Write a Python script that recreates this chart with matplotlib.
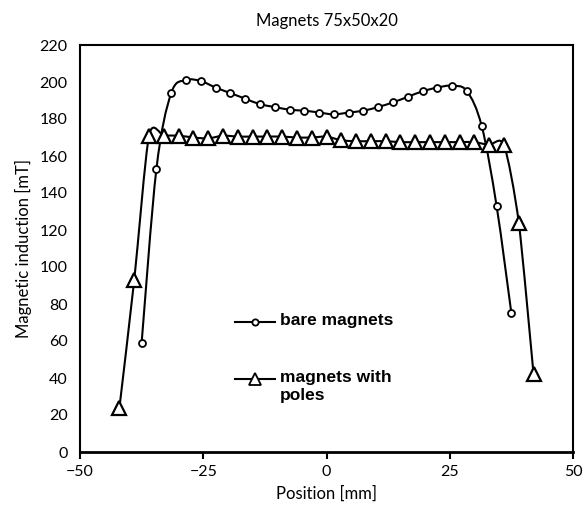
import matplotlib
matplotlib.use('Agg')
import matplotlib.pyplot as plt
from matplotlib.path import Path
from matplotlib.patches import PathPatch

# bare magnets (circles)
bare_x = [-37.5, -34.5, -31.5, -28.5, -25.5, -22.5, -19.5, -16.5, -13.5, -10.5, -7.5, -4.5, -1.5,
          1.5, 4.5, 7.5, 10.5, 13.5, 16.5, 19.5, 22.5, 25.5, 28.5, 31.5, 34.5, 37.5]
bare_y = [59, 153, 194, 201, 200.5, 197, 194, 191, 188, 186.5, 185, 184.5, 183.5,
          182.5, 183.5, 184.5, 186.5, 189, 192, 195, 197, 198, 195, 176, 133, 75]

# magnets with poles (triangles)
poles_x = [-42, -39, -36, -33, -30, -27, -24, -21, -18, -15, -12, -9, -6, -3, 0,
           3, 6, 9, 12, 15, 18, 21, 24, 27, 30, 33, 36, 39, 42]
poles_y = [24, 93, 171, 171, 171, 170, 169.5, 171, 170.5, 170.5, 170.5, 170.5, 170, 170, 170.5,
           168.5, 168, 168, 168, 167.5, 167.5, 167.5, 167.5, 167.5, 167.5, 166, 166, 124, 42]

labels = ['bare magnets', 'magnets with\npoles']


def smooth_path(x, y, k=6.0):
    # excel-like smoothed line, catmull-rom -> cubic bezier
    verts = [(x[0], y[0])]
    codes = [Path.MOVETO]
    n = len(x)
    for i in range(n - 1):
        a = i - 1 if i > 0 else i
        d = i + 2 if i + 2 < n else i + 1
        c1 = (x[i] + (x[i+1] - x[a]) / k, y[i] + (y[i+1] - y[a]) / k)
        c2 = (x[i+1] - (x[d] - x[i]) / k, y[i+1] - (y[d] - y[i]) / k)
        verts += [c1, c2, (x[i+1], y[i+1])]
        codes += [Path.CURVE4] * 3
    return Path(verts, codes)


plt.rcParams['font.family'] = ['Lato', 'DejaVu Sans']

fig = plt.figure(figsize=(5.83, 5.08), dpi=100)
ax = fig.add_axes([80/583, 56/508, 493/583, 407/508])

ax.add_patch(PathPatch(smooth_path(bare_x, bare_y), fill=False, color='black', lw=1.5, zorder=2))
ax.add_patch(PathPatch(smooth_path(poles_x, poles_y, 8.0), fill=False, color='black', lw=1.5, zorder=2))
ax.plot(bare_x, bare_y, ls='none', marker='o', ms=5, mfc='white', mec='black', mew=1.3, zorder=3)
ax.plot(poles_x, poles_y, ls='none', marker='^', ms=9.5, mfc='white', mec='black', mew=1.6, zorder=3)

# legend drawn by hand so that the handle sits on the first text line
for yy, lab, mk, ms in [(0.319, labels[0], 'o', 5), (0.179, labels[1], '^', 9.5)]:
    ax.plot([0.314, 0.395], [yy, yy], color='black', lw=1.5, transform=ax.transAxes)
    ax.plot([0.3545], [yy], marker=mk, ms=ms * 0.9, mfc='white', mec='black', mew=1.3,
            transform=ax.transAxes)
    ax.text(0.405, yy + 0.022, lab, transform=ax.transAxes, ha='left', va='top',
            family='Liberation Sans', fontweight='bold', fontsize=12.5, linespacing=1.25)

ax.set_xlim(-50, 50)
ax.set_ylim(0, 220)
ax.set_xticks([-50, -25, 0, 25, 50])
ax.set_yticks(range(0, 221, 20))
ax.tick_params(axis='x', direction='out', length=5, width=1.5, labelsize=11.5, pad=4)
ax.tick_params(axis='y', length=0, labelsize=11.5, pad=9)
for s in ax.spines.values():
    s.set_linewidth(1.5)
ax.spines['bottom'].set_linewidth(2)

ax.set_title('Magnets 75x50x20', fontsize=12, pad=14)
ax.set_xlabel('Position [mm]', fontsize=12, labelpad=5)
ax.set_ylabel('Magnetic induction [mT]', fontsize=12, labelpad=5)

fig.savefig('out.png', dpi=100)
